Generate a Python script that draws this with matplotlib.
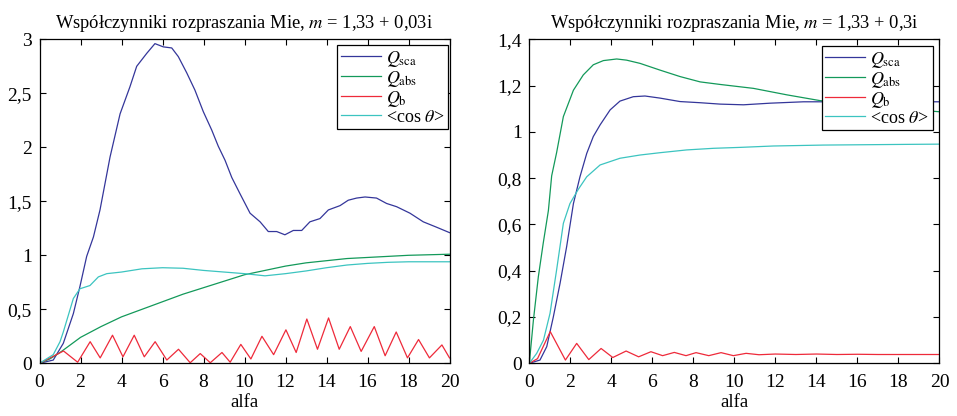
import numpy as np
import matplotlib
matplotlib.use('Agg')
from matplotlib import pyplot as plt

plt.rcParams['font.family'] = ['Liberation Serif', 'DejaVu Serif']
plt.rcParams['mathtext.fontset'] = 'stix'

# --- left panel: m = 1,33 + 0,03i ---
L_sca_x = [0, 0.67, 1.16, 1.65, 1.97, 2.3, 2.63, 2.95, 3.44, 3.93, 4.41, 4.74, 5.23, 5.63,
           6.04, 6.45, 6.77, 7.18, 7.58, 7.99, 8.4, 8.72, 9.05, 9.38, 9.78, 10.27, 10.76,
           11.16, 11.57, 11.97, 12.38, 12.79, 13.19, 13.68, 14.09, 14.66, 15.06, 15.47,
           15.88, 16.44, 16.93, 17.42, 18.07, 18.72, 19.37, 20]
L_sca_y = [0, 0.03, 0.185, 0.46, 0.71, 0.99, 1.17, 1.42, 1.91, 2.31, 2.56, 2.75, 2.87, 2.96,
           2.93, 2.92, 2.84, 2.69, 2.53, 2.33, 2.16, 2.01, 1.88, 1.72, 1.57, 1.39, 1.31,
           1.22, 1.22, 1.19, 1.23, 1.23, 1.31, 1.34, 1.42, 1.46, 1.51, 1.53,
           1.54, 1.53, 1.48, 1.45, 1.39, 1.31, 1.26, 1.21]

L_abs_x = [0, 0.5, 1, 1.5, 2, 3, 4, 5, 6, 7, 8, 9, 10, 11, 12, 13, 14, 15, 16, 17, 18, 19, 20]
L_abs_y = [0, 0.04, 0.1, 0.17, 0.24, 0.34, 0.43, 0.5, 0.57, 0.64, 0.7, 0.76, 0.82, 0.86,
           0.9, 0.93, 0.95, 0.97, 0.98, 0.99, 1.0, 1.005, 1.01]

L_cos_x = [0, 0.67, 1.0, 1.16, 1.65, 1.97, 2.46, 2.87, 3.28, 4, 5, 6, 7, 8, 9, 10, 11, 12,
           13, 14, 15, 16, 17, 18, 19, 20]
L_cos_y = [0, 0.08, 0.2, 0.29, 0.6, 0.69, 0.72, 0.8, 0.83, 0.845, 0.875, 0.885, 0.88, 0.86,
           0.845, 0.83, 0.81, 0.83, 0.855, 0.885, 0.91, 0.925, 0.935, 0.94, 0.94, 0.94]

L_b_x = [0, 1.17, 1.86, 2.47, 2.96, 3.56, 4.07, 4.62, 5.11, 5.64, 6.21, 6.78, 7.35, 7.84,
         8.33, 8.9, 9.3, 9.82, 10.31, 10.85, 11.42, 12.02, 12.52, 13.04, 13.56, 14.1,
         14.62, 15.16, 15.69, 16.33, 16.86, 17.4, 17.95, 18.49, 19.02, 19.63, 20]
L_b_y = [0, 0.114, 0.01, 0.2, 0.05, 0.26, 0.06, 0.26, 0.06, 0.2, 0.03, 0.13, 0.005, 0.09,
         0.005, 0.1, 0.01, 0.175, 0.04, 0.25, 0.08, 0.31, 0.1, 0.41, 0.13, 0.42,
         0.13, 0.34, 0.11, 0.34, 0.07, 0.29, 0.05, 0.22, 0.05, 0.17, 0.05]

# --- right panel: m = 1,33 + 0,3i ---
R_sca_x = [0, 0.52, 0.85, 1.17, 1.5, 1.82, 2.15, 2.47, 2.8, 3.12, 3.45, 3.94, 4.42, 5.07,
           5.64, 6.37, 7.35, 8.33, 9.3, 10.44, 11.74, 13.37, 15, 17, 20]
R_sca_y = [0, 0.014, 0.072, 0.2, 0.346, 0.504, 0.69, 0.806, 0.907, 0.98, 1.03, 1.095, 1.133,
           1.152, 1.155, 1.146, 1.131, 1.126, 1.12, 1.117, 1.124, 1.13, 1.13, 1.13, 1.13]

R_abs_x = [0, 0.2, 0.44, 0.68, 0.93, 1.09, 1.33, 1.66, 2.15, 2.63, 3.12, 3.61, 4.26, 4.74,
           5.4, 6.37, 7.35, 8.33, 9.3, 10.93, 12.56, 14.18, 16, 18, 20]
R_abs_y = [0, 0.187, 0.374, 0.52, 0.66, 0.81, 0.91, 1.066, 1.18, 1.246, 1.29, 1.308, 1.315,
           1.31, 1.296, 1.267, 1.239, 1.216, 1.205, 1.188, 1.16, 1.135, 1.12, 1.1, 1.087]

R_cos_x = [0, 0.36, 0.69, 1.01, 1.33, 1.66, 1.98, 2.39, 2.8, 3.45, 4.42, 5.4, 6.37, 7.67,
           8.98, 10.28, 11.9, 14.34, 18.4, 20]
R_cos_y = [0, 0.043, 0.1, 0.216, 0.403, 0.605, 0.69, 0.752, 0.806, 0.857, 0.886, 0.9, 0.91,
           0.922, 0.929, 0.933, 0.939, 0.943, 0.946, 0.947]

R_b_x = [0, 0.4, 1.02, 1.76, 2.31, 2.9, 3.5, 4.07, 4.72, 5.33, 5.93, 6.5, 7.07, 7.64, 8.13,
         8.75, 9.35, 9.95, 10.57, 11.2, 12, 13, 14, 15, 16, 17, 18, 20]
R_b_y = [0, 0.02, 0.137, 0.014, 0.086, 0.016, 0.064, 0.025, 0.053, 0.028, 0.05, 0.033,
         0.047, 0.033, 0.046, 0.033, 0.046, 0.033, 0.043, 0.037, 0.04, 0.038, 0.04, 0.038,
         0.039, 0.038, 0.038, 0.038]

labels = [r'$Q_{\mathrm{sca}}$', r'$Q_{\mathrm{abs}}$', r'$Q_{\mathrm{b}}$', r'<cos $\theta$>']
colors = ['#34369a', '#13995a', '#ee2a3a', '#3cc4c0']

fig = plt.figure(figsize=(9.57, 4.16), dpi=100)
ax1 = fig.add_axes([0.0413, 0.1267, 0.4284, 0.7788])
ax2 = fig.add_axes([0.5531, 0.1267, 0.4286, 0.7788])

panels = [
    (ax1, [(L_sca_x, L_sca_y), (L_abs_x, L_abs_y), (L_b_x, L_b_y), (L_cos_x, L_cos_y)],
     3.0, 0.5, '0,03i', (0.997, 0.982)),
    (ax2, [(R_sca_x, R_sca_y), (R_abs_x, R_abs_y), (R_b_x, R_b_y), (R_cos_x, R_cos_y)],
     1.4, 0.2, '0,3i', (0.983, 0.979)),
]

for ax, series, ymax, ystep, im, anchor in panels:
    for (xs, ys), c, lab in zip(series, colors, labels):
        ax.plot(xs, ys, color=c, lw=0.9, label=lab)
    ax.set_xlim(0, 20)
    ax.set_ylim(0, ymax)
    ax.set_xticks(np.arange(0, 21, 2))
    yt = np.round(np.arange(0, ymax + 1e-9, ystep), 2)
    ax.set_yticks(yt)
    ax.set_yticklabels([('%g' % v).replace('.', ',') for v in yt])
    ax.tick_params(direction='in', top=True, right=True, length=4, width=0.8,
                   labelsize=14)
    ax.tick_params(axis='x', pad=8)
    ax.tick_params(axis='y', pad=5.5)
    for s in ax.spines.values():
        s.set_linewidth(0.9)
    ax.set_xlabel('alfa', fontsize=13.5, labelpad=2)
    ax.set_title('Współczynniki rozpraszania Mie, $m$ = 1,33 + ' + im, fontsize=13.3, pad=8)
    leg = ax.legend(loc='upper right', bbox_to_anchor=anchor, fontsize=13,
                    handlelength=2.2, handletextpad=0.3, labelspacing=0.0,
                    borderpad=0.2, borderaxespad=0.0, fancybox=False, framealpha=1)
    leg.get_frame().set_edgecolor('black')
    leg.get_frame().set_linewidth(0.9)

fig.savefig('out.png', dpi=100)
